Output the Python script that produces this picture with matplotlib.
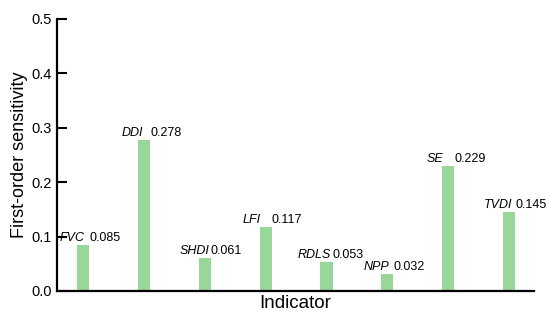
import matplotlib
matplotlib.use("Agg")
import matplotlib.pyplot as plt
from matplotlib.transforms import offset_copy

plt.rcParams['font.family'] = ['Liberation Sans', 'DejaVu Sans']

indicators = ["FVC", "DDI", "SHDI", "LFI", "RDLS", "NPP", "SE", "TVDI"]
sensitivity = [0.085, 0.278, 0.061, 0.117, 0.053, 0.032, 0.229, 0.145]
value_labels = ["0.085", "0.278", "0.061", "0.117", "0.053", "0.032", "0.229", "0.145"]
yticks = [0.0, 0.1, 0.2, 0.3, 0.4, 0.5]
# horizontal nudges (pixels) of the italic names relative to bar centre
name_dx = [1, -1, 5, -5, 4.5, 1.5, -4.5, 3]

fig = plt.figure(figsize=(5.5, 3.21), dpi=100)
ax = fig.add_axes([57/550, 1-291/321, (534-57)/550, (291-19)/321])

x = list(range(len(indicators)))
ax.bar(x, sensitivity, width=0.2, color='#98d69a', edgecolor='none')

ax.set_xlim(-0.43, 7.41)
ax.set_ylim(0, 0.5)
ax.set_yticks(yticks)
ax.set_yticklabels([f"{t:.1f}" for t in yticks], fontsize=10.5)
ax.set_xticks([])
ax.tick_params(axis='y', direction='in', length=7, width=1.5, pad=4)
for s in ['top', 'right']:
    ax.spines[s].set_visible(False)
for s in ['left', 'bottom']:
    ax.spines[s].set_linewidth(1.6)

for xi, v, name, lab, dx in zip(x, sensitivity, indicators, value_labels, name_dx):
    tn = offset_copy(ax.transData, fig=fig, x=dx*0.72, y=7*0.72, units='points')
    ax.text(xi, v, name, transform=tn, ha='right', va='center', fontsize=9, style='italic')
    tv = offset_copy(ax.transData, fig=fig, x=6*0.72, y=7*0.72, units='points')
    ax.text(xi, v, lab, transform=tv, ha='left', va='center', fontsize=9)

ax.set_ylabel("First-order sensitivity", fontsize=13, labelpad=2)
ax.set_xlabel("Indicator", fontsize=13.5, labelpad=3)

fig.savefig("out.png", dpi=100)
